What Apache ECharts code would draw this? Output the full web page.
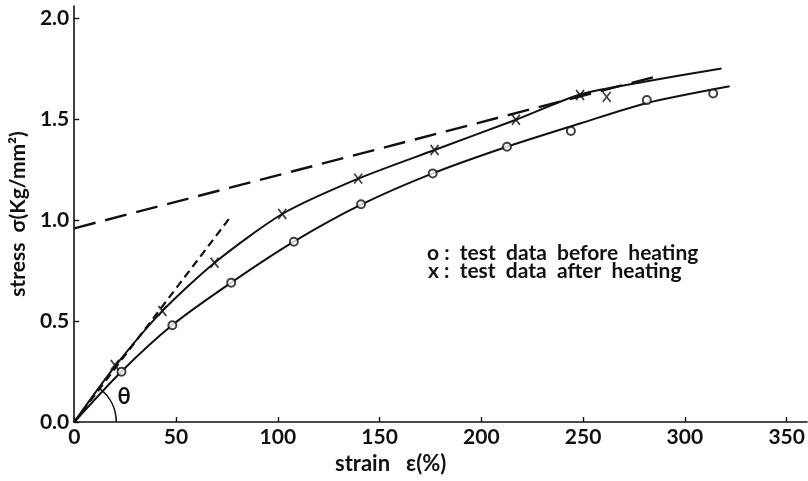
<!DOCTYPE html>
<html>
<head>
<meta charset="utf-8">
<script src="https://cdn.jsdelivr.net/npm/echarts@6/dist/echarts.min.js"></script>
<style>
html,body{margin:0;padding:0;background:#fff;}
#c{width:808px;height:481px;}
</style>
</head>
<body>
<div id="c"></div>
<script>
// ---- data ----
const xTicks = [0, 50, 100, 150, 200, 250, 300, 350];
const yTicks = [0, 0.5, 1.0, 1.5, 2.0];

const beforeStrain = [23.2, 48.2, 77.1, 107.9, 140.9, 176.1, 212.6, 244.0, 281.3, 313.9];
const beforeStress = [0.249, 0.479, 0.690, 0.893, 1.078, 1.231, 1.363, 1.441, 1.594, 1.627];

const afterStrain = [19.9, 43.3, 68.9, 102.2, 139.5, 177.0, 217.0, 248.5, 261.6];
const afterStress = [0.282, 0.550, 0.789, 1.030, 1.205, 1.347, 1.497, 1.619, 1.610];

const beforeFitStrain = [0, 23.2, 48.2, 77.1, 107.9, 140.9, 176.1, 212.6, 248.5, 281.3, 322];
const beforeFitStress = [0, 0.25, 0.48, 0.69, 0.893, 1.076, 1.231, 1.363, 1.478, 1.58, 1.663];

const afterFitStrain = [0, 20, 43.3, 69, 102.2, 139.5, 177, 217, 248.5, 280, 318];
const afterFitStress = [0, 0.275, 0.55, 0.789, 1.03, 1.205, 1.347, 1.497, 1.622, 1.685, 1.751];

const tangentStrain = [0, 77.1];
const tangentStress = [0, 1.02];

const asymptoteStrain = [0, 288.6];
const asymptoteStress = [0.959, 1.718];

const legendLines = ['o :  test  data  before  heating', 'x :  test  data  after  heating'];

function pairs(xs, ys) { return xs.map((x, i) => [x, ys[i]]); }

const INK = '#111';
const FONT = 'Lato';

const chart = echarts.init(document.getElementById('c'), null, {renderer: 'canvas'});

chart.setOption({
  backgroundColor: '#fff',
  animation: false,
  grid: {left: 74, right: 1, top: 6, bottom: 59, containLabel: false},
  xAxis: {
    type: 'value', min: 0, max: 360,
    name: 'strain   ε(%)', nameLocation: 'middle', nameGap: 30,
    nameTextStyle: {color: INK, fontFamily: FONT, fontSize: 22, fontWeight: 'bold', padding: [0, 100, 0, 0]},
    axisLine: {show: true, onZero: false, lineStyle: {color: INK, width: 1.6}},
    axisTick: {show: true, inside: true, length: 5, customValues: xTicks, lineStyle: {color: INK, width: 1.4}},
    axisLabel: {customValues: xTicks, color: INK, fontFamily: FONT, fontSize: 21, fontWeight: 'bold', margin: 5,
      formatter: v => String(v)},
    splitLine: {show: false}
  },
  yAxis: {
    type: 'value', min: 0, max: 2.06,
    name: 'stress  σ(Kg/mm²)', nameLocation: 'middle', nameGap: 36, nameRotate: 90,
    nameTextStyle: {color: INK, fontFamily: FONT, fontSize: 21, fontWeight: 'bold'},
    axisLine: {show: true, onZero: false, lineStyle: {color: INK, width: 1.6}},
    axisTick: {show: true, inside: true, length: 5, customValues: yTicks, lineStyle: {color: INK, width: 1.4}},
    axisLabel: {customValues: yTicks, color: INK, fontFamily: FONT, fontSize: 21, fontWeight: 'bold', margin: 5,
      formatter: v => v.toFixed(1)},
    splitLine: {show: false}
  },
  series: [
    {
      name: 'asymptote', type: 'line', data: pairs(asymptoteStrain, asymptoteStress),
      symbol: 'none', lineStyle: {color: INK, width: 2.4, type: [22, 10]}, z: 2
    },
    {
      name: 'initial tangent', type: 'line', data: pairs(tangentStrain, tangentStress),
      symbol: 'none', lineStyle: {color: INK, width: 2.2, type: [8, 5]}, z: 2
    },
    {
      name: 'fit before', type: 'line', data: pairs(beforeFitStrain, beforeFitStress),
      symbol: 'none', smooth: 0.25, lineStyle: {color: INK, width: 2}, z: 3
    },
    {
      name: 'fit after', type: 'line', data: pairs(afterFitStrain, afterFitStress),
      symbol: 'none', smooth: 0.25, lineStyle: {color: INK, width: 2}, z: 3
    },
    {
      name: 'test data before heating', type: 'scatter', data: pairs(beforeStrain, beforeStress),
      symbol: 'emptyCircle', symbolSize: 8,
      itemStyle: {color: INK, borderColor: INK, borderWidth: 1.7}, z: 5
    },
    {
      name: 'test data after heating', type: 'scatter', data: pairs(afterStrain, afterStress),
      symbol: 'path://M0,0L10,12M10,0L0,12', symbolSize: [8, 10],
      itemStyle: {color: 'none', borderColor: INK, borderWidth: 1.8}, z: 5
    }
  ]
});

// annotations (theta angle and legend text)
const o = chart.convertToPixel({gridIndex: 0}, [0, 0]);
const t = chart.convertToPixel({gridIndex: 0}, [tangentStrain[1], tangentStress[1]]);
const ang = Math.atan2(t[1] - o[1], t[0] - o[0]);
chart.setOption({
  graphic: [
    {type: 'arc', shape: {cx: o[0], cy: o[1], r: 42, startAngle: ang, endAngle: 0, clockwise: true},
      style: {stroke: INK, lineWidth: 1.6, fill: 'none'}, z: 10},
    {type: 'text', x: o[0] + 50, y: o[1] - 25,
      style: {text: 'θ', fill: INK, font: 'bold 22px ' + FONT, align: 'center', verticalAlign: 'middle'}, z: 10},
    {type: 'text', x: 427, y: 253,
      style: {text: legendLines[0], fill: INK, font: 'bold 21px ' + FONT, align: 'left', verticalAlign: 'middle'}, z: 10},
    {type: 'text', x: 428, y: 271,
      style: {text: legendLines[1], fill: INK, font: 'bold 21px ' + FONT, align: 'left', verticalAlign: 'middle'}, z: 10}
  ]
});
</script>
</body>
</html>
